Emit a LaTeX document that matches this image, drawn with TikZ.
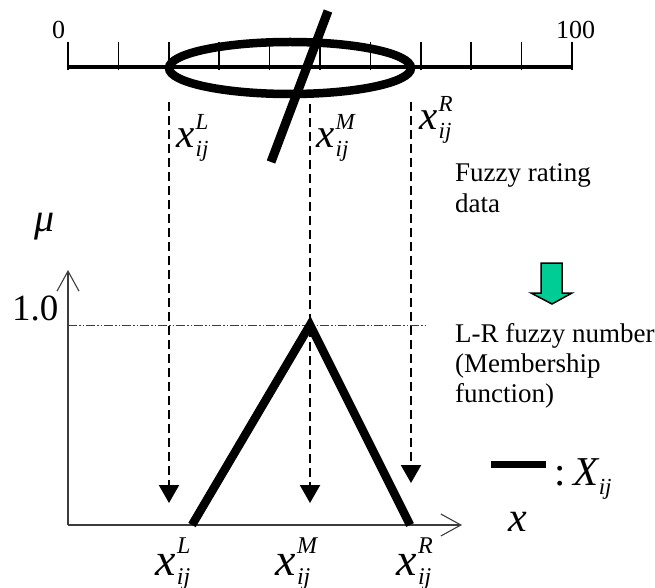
\documentclass[tikz,border=0pt]{standalone}
\usepackage{fontspec}
\setmainfont{Liberation Serif}
\usetikzlibrary{arrows.meta}
\definecolor{arrowgreen}{RGB}{0,204,150}
\definecolor{axisgray}{RGB}{60,60,60}
\newcommand\xij[3]{{\fontsize{#1}{#1}\selectfont\itshape x\kern0.03em\raisebox{0.46em}{\makebox[0pt][l]{\fontsize{#2}{#2}\selectfont #3}}\raisebox{-0.2em}{\fontsize{#2}{#2}\selectfont ij}}}
\begin{document}
\begin{tikzpicture}[x=1pt,y=-1pt,
  lbl/.style={inner sep=0pt,anchor=base west},
  scaleline/.style={line width=4.5pt},
  tickline/.style={line width=1.5pt},
  thick line/.style={line width=8.5pt},
  dropline/.style={line width=2.2pt,dash pattern=on 9pt off 5pt,-{Triangle[length=18pt,width=20pt]}},
  axisline/.style={line width=1.1pt,color=axisgray,-{Straight Barb[length=20pt,width=22pt,line width=1.1pt]}},
  levelline/.style={line width=1pt,color=axisgray,dash pattern=on 9pt off 2pt on 1.5pt off 2pt on 1.5pt off 2pt}]
\useasboundingbox (0,0) rectangle (655,588);
% scale
\coordinate (s0) at (68,67);
\coordinate (s100) at (572,67);
\draw[scaleline] (s0) -- (s100);
\foreach \i in {0,...,10}{
  \draw[tickline] ({68+50.4*\i},42) -- ({68+50.4*\i},70);
}
\node[lbl,font=\fontsize{26}{26}\selectfont] (n0) at (52,39) {0};
\node[lbl,font=\fontsize{26}{26}\selectfont] (n100) at (556,39) {100};
% ellipse and slash
\draw[thick line] (290,68) ellipse [x radius=121, y radius=26];
\coordinate (slA) at (328,11);
\coordinate (slB) at (271,162);
\draw[line width=9pt] (slA) -- (slB);
% drop lines
\coordinate (dL0) at (169,102);
\coordinate (dM0) at (310,104);
\coordinate (dR0) at (411,102);
\coordinate (dL1) at (169,503);
\coordinate (dM1) at (310,503);
\coordinate (dR1) at (411,483);
\draw[dropline] (dL0) -- (dL1);
\draw[dropline] (dM0) -- (dM1);
\draw[dropline] (dR0) -- (dR1);
% top labels
\node[lbl] (tL) at (176,148) {\xij{41}{23}{L}};
\node[lbl] (tM) at (316,148) {\xij{41}{23}{M}};
\node[lbl] (tR) at (419,130) {\xij{41}{23}{R}};
% axes
\coordinate (O) at (68,525);
\coordinate (ytip) at (68,270);
\coordinate (xtip) at (462,525);
\draw[axisline] (O) -- (ytip);
\draw[axisline] (O) -- (xtip);
\node[lbl,font=\fontsize{40}{40}\selectfont\itshape] (mu) at (34,231) {μ};
\node[lbl,font=\fontsize{37}{37}\selectfont] (one) at (12,320) {1.0};
\coordinate (lv0) at (68,325);
\coordinate (lv1) at (428,325);
\draw[levelline] (lv0) -- (lv1);
% triangle membership
\coordinate (tA) at (192,525);
\coordinate (tB) at (310,325);
\coordinate (tC) at (410,525);
\draw[thick line,line join=miter] (tA) -- (tB) -- (tC);
% bottom labels
\node[lbl] (bL) at (155,575) {\xij{46}{24}{L}};
\node[lbl] (bM) at (275,575) {\xij{46}{24}{M}};
\node[lbl] (bR) at (396,575) {\xij{46}{24}{R}};
% right texts
\node[lbl,font=\fontsize{27}{30}\selectfont] (fr) at (455,182) {Fuzzy rating};
\node[lbl,font=\fontsize{27}{30}\selectfont] (fr2) at (455,212) {data};
\node[lbl,font=\fontsize{27}{30}\selectfont] (lr1) at (455,342) {L-R fuzzy number};
\node[lbl,font=\fontsize{27}{30}\selectfont] (lr2) at (455,372) {(Membership};
\node[lbl,font=\fontsize{27}{30}\selectfont] (lr3) at (455,402) {function)};
% green arrow
\draw[line width=1.5pt,fill=arrowgreen,line join=miter]
  (541,263) -- (562,263) -- (562,293) -- (572,293) -- (552,304) -- (531,293) -- (541,293) -- cycle;
% legend
\coordinate (lg0) at (491,464.5);
\coordinate (lg1) at (546,464.5);
\draw[line width=7.5pt] (lg0) -- (lg1);
\node[lbl] (lgX) at (554,485) {\fontsize{41}{41}\selectfont :\kern0.2em\itshape X\raisebox{-0.22em}{\fontsize{23}{23}\selectfont ij}};
\node[lbl,font=\fontsize{42}{42}\selectfont\itshape] (xl) at (508,531) {x};
\end{tikzpicture}
\end{document}
